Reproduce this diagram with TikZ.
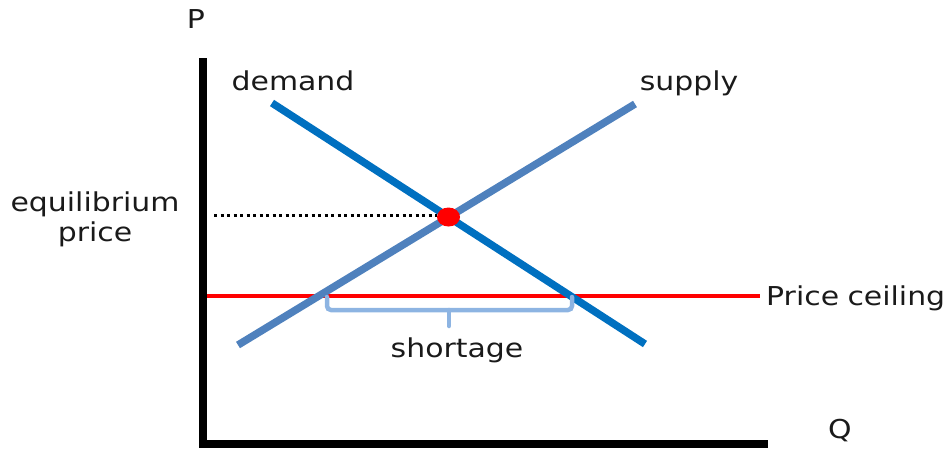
\documentclass[tikz,border=0pt]{standalone}
\usepackage{fontspec}
\setmainfont{DejaVu Sans}
\usepackage{graphicx}
\usetikzlibrary{shapes.geometric}
\definecolor{demandc}{HTML}{0070C0}
\definecolor{supplyc}{HTML}{4F81BD}
\definecolor{bracec}{HTML}{8DB4E2}
\definecolor{ceilc}{HTML}{FF0000}
\definecolor{txt}{HTML}{1A1A1A}
\tikzset{
  lbl/.style={inner sep=0pt, text=txt, font=\fontsize{26}{30}\selectfont, anchor=base},
  axisline/.style={line width=8pt, black},
  curve/.style={line width=7.5pt},
  bracel/.style={line width=4.5pt, bracec, rounded corners=4pt, line cap=round},
}
\newcommand{\wt}[1]{\scalebox{1.15}[1]{#1}}
\begin{document}
\begin{tikzpicture}[x=1pt,y=-1pt]
\useasboundingbox (0,0) rectangle (948,451);
% axes
\coordinate (ytop) at (203,58);
\coordinate (origin) at (203,444);
\coordinate (xend) at (768,444);
\draw[axisline] (ytop) -- (203,448);
\draw[axisline] (199,444) -- (xend);
% price ceiling
\coordinate (pc1) at (207,296);
\coordinate (pc2) at (760,296);
\draw[line width=4pt, ceilc] (pc1) -- (pc2);
% supply and demand
\coordinate (s1) at (238,345);
\coordinate (s2) at (635,104);
\coordinate (d1) at (272,103);
\coordinate (d2) at (645,344);
\draw[curve, supplyc] (s1) -- (s2);
\draw[curve, demandc] (d1) -- (d2);
% equilibrium point and dotted line
\node[ellipse, fill=red, minimum width=23pt, minimum height=19pt, inner sep=0pt] (eq) at (448.5,217) {};
\coordinate (dl) at (214,215);
\draw[line width=3pt, dash pattern=on 3pt off 3.5pt, black] (dl) -- (dl -| eq.west);
% brace
\coordinate (bl) at (327,297);
\coordinate (br) at (572,297);
\coordinate (bm) at (449,326);
\draw[bracel] (bl) -- (327,310) -- (572,310) -- (br);
\draw[bracel] (449,310) -- (bm);
% labels
\node[lbl] (P) at (196,28) {\wt{P}};
\node[lbl] (Q) at (840,438) {\wt{Q}};
\node[lbl] (dem) at (293,90) {\wt{demand}};
\node[lbl] (sup) at (689,90) {\wt{supply}};
\node[lbl] (eql) at (95,211) {\wt{equilibrium}};
\node[lbl] (eqp) at (95,241) {\wt{price}};
\node[lbl, anchor=base west] (pcl) at (766,305) {\wt{Price\hspace{0.28em}ceiling}};
\node[lbl] (sh) at (457,357) {\wt{shortage}};
\end{tikzpicture}
\end{document}
